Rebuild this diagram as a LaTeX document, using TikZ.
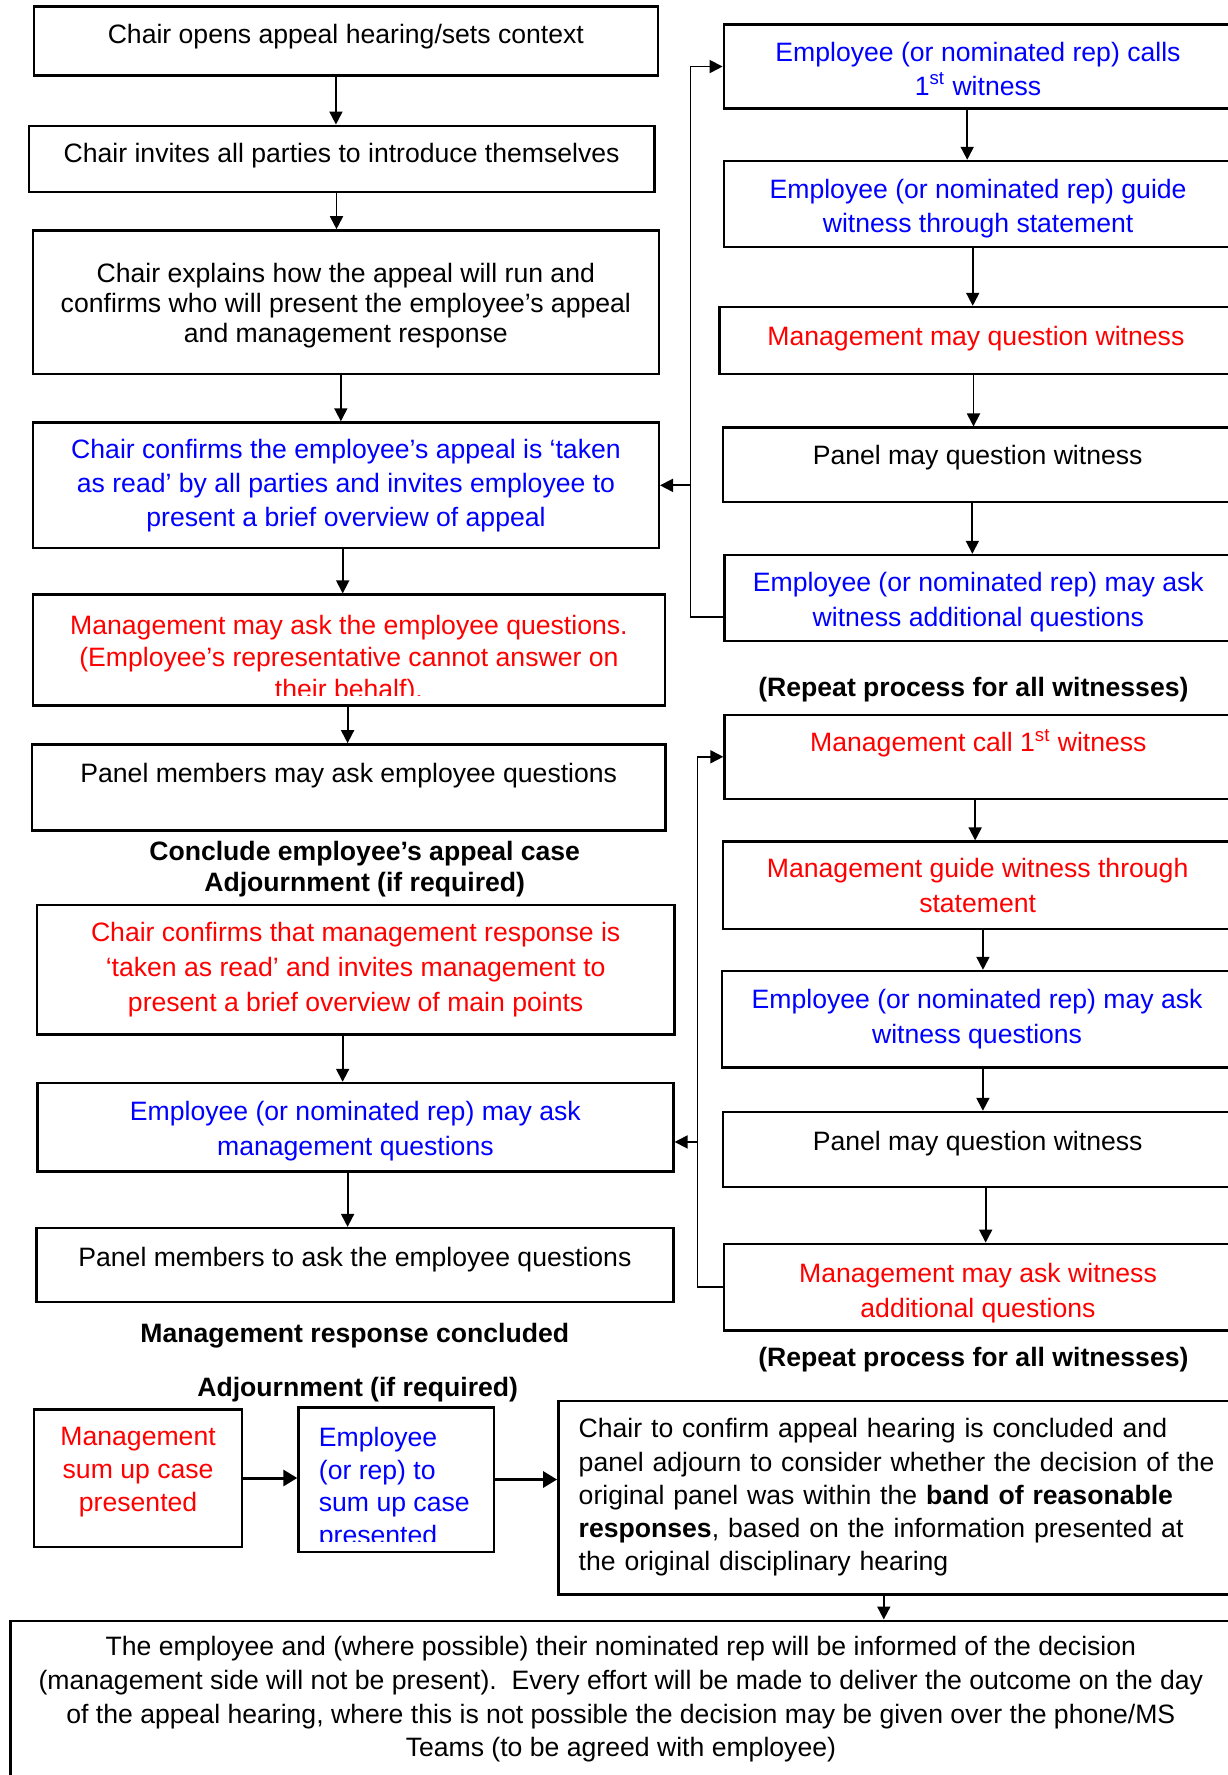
\documentclass[tikz,border=0pt]{standalone}
\usepackage{fontspec}
\setmainfont{Liberation Sans}
\usepackage{xcolor}
\definecolor{EmpBlue}{RGB}{0,0,255}
\definecolor{MgmtRed}{RGB}{255,0,0}
\usepackage{tikz}
\usetikzlibrary{arrows.meta,calc}
\newcommand{\padtop}[1]{\rule{0pt}{#1}}
\newcommand{\padbot}[1]{\rule[-#1]{0pt}{#1}}

\begin{document}
\begin{tikzpicture}[x=0.5pt,y=-0.5pt,font=\fontsize{13.3}{16.6}\selectfont,
  box/.style={draw,line width=1.2pt,anchor=west,align=center,inner sep=2pt},
  lead/.style={font=\fontsize{13.3}{#1}\selectfont},
  lift/.style={text height=10pt,text depth=#1},
  head/.style={font=\fontsize{13.3}{15.5}\selectfont\bfseries,align=center},
  arr/.style={-{Triangle[width=6.5pt,length=6.5pt]},line width=0.9pt},
  fat/.style={-{Triangle[width=8pt,length=7pt]},line width=1.5pt}]
  \useasboundingbox (0,0) rectangle (1227,1775);

  \node[box,minimum width=311.85pt,minimum height=34.5pt,lift=7.2pt] (b1) at (32.8,40.9) {Chair opens appeal hearing/sets context};
  \node[box,minimum width=312.7pt,minimum height=33pt,lift=6.1pt] (b2) at (27.7,158.75) {Chair invites all parties to introduce themselves};
  \node[box,lead=15.2pt,minimum width=312.95pt,minimum height=71.75pt] (b3) at (31.7,302.15) {\padtop{13.1pt}Chair explains how the appeal will run and\\confirms who will present the employee’s appeal\\and management response};
  \node[box,text=EmpBlue,lead=16.9pt,minimum width=312.8pt,minimum height=62.85pt] (b4) at (32,485.35) {Chair confirms the employee’s appeal is ‘taken\\as read’ by all parties and invites employee to\\present a brief overview of appeal};
  \node[box,minimum width=316pt,minimum height=55.4pt] (b5) at (31.7,650) {};
  \begin{scope}
    \clip (b5.north west) rectangle ($(b5.south east)+(0,-11)$);
    \node[text=MgmtRed,lead=16pt,align=center] (b5txt) at ($(b5.center)+(0,9.6)$) {Management may ask the employee questions.\\(Employee’s representative cannot answer on\\their behalf).};
  \end{scope}
  \node[box,minimum width=316.75pt,minimum height=43pt,lift=14.7pt] (b6) at (30.8,787.35) {Panel members may ask employee questions};
  \node[head] (concl) at (364.7,869.5) {Conclude employee’s appeal case\\Adjournment (if required)};
  \node[box,text=MgmtRed,lead=17.6pt,minimum width=318.75pt,minimum height=64.65pt] (b7) at (35.7,969.65) {Chair confirms that management response is\\‘taken as read’ and invites management to\\present a brief overview of main points};
  \node[box,text=EmpBlue,lead=17.5pt,minimum width=318pt,minimum height=44.25pt] (b8) at (36.2,1127.25) {\padtop{13.1pt}Employee (or nominated rep) may ask\\management questions};
  \node[box,minimum width=318.6pt,minimum height=36.8pt,lift=8.2pt] (b9) at (35.1,1264.9) {Panel members to ask the employee questions};
  \node[head] (mgmtdone) at (354.8,1336) {Management response concluded};
  \node[head] (adjourn) at (357.7,1390) {Adjournment (if required)};
  \node[box,text=MgmtRed,lead=16.5pt,minimum width=104pt,minimum height=68.7pt] (b10) at (32.9,1478) {Management\\sum up case\\presented\padbot{8.4pt}};
  \node[box,minimum width=97.85pt,minimum height=72.2pt] (b11) at (297.3,1479.5) {};
  \begin{scope}
    \clip (b11.north west) rectangle ($(b11.south east)+(0,-11)$);
    \node[text=EmpBlue,lead=16.25pt,align=left,anchor=west,inner sep=0pt] (b11txt) at (318.5,1488.7) {Employee\\(or rep) to\\sum up case\\presented};
  \end{scope}
  \node[box,align=left,text width=330pt,inner xsep=10.2pt,lead=16.65pt,minimum height=96.8pt] (b12) at (557.1,1497.5) {Chair to confirm appeal hearing is concluded and\\panel adjourn to consider whether the decision of the\\original panel was within the \textbf{band of reasonable}\\\textbf{responses}, based on the information presented at\\the original disciplinary hearing};
  \node[box,lead=16.8pt,minimum width=610.3pt,minimum height=78.65pt] (b13) at (9.4,1699.35) {The employee and (where possible) their nominated rep will be informed of the decision\\(management side will not be present).\ \ Every effort will be made to deliver the outcome on the day\\of the appeal hearing, where this is not possible the decision may be given over the phone/MS\\Teams (to be agreed with employee)};

  \node[box,text=EmpBlue,lead=17pt,minimum width=254.2pt,minimum height=41.95pt] (r1) at (722.6,66.55) {\padtop{12pt}Employee (or nominated rep) calls\\1\textsuperscript{st} witness};
  \node[box,text=EmpBlue,lead=17pt,minimum width=254pt,minimum height=43.15pt] (r2) at (722.9,204.15) {\padtop{14.2pt}Employee (or nominated rep) guide\\witness through statement};
  \node[box,text=MgmtRed,minimum width=256.3pt,minimum height=33.5pt,lift=5.4pt] (r3) at (718.4,340.5) {Management may question witness};
  \node[box,minimum width=254.55pt,minimum height=37.25pt,lift=10.5pt] (r4) at (721.9,464.95) {Panel may question witness};
  \node[box,text=EmpBlue,lead=17.5pt,minimum width=253.9pt,minimum height=43pt] (r5) at (723.2,598) {\padtop{13.7pt}Employee (or nominated rep) may ask\\witness additional questions};
  \node[head] (rep1) at (973.4,689.4) {(Repeat process for all witnesses)};
  \node[box,text=MgmtRed,minimum width=253.85pt,minimum height=42pt,lift=14.9pt] (r6) at (723.3,756.8) {Management call 1\textsuperscript{st} witness};
  \node[box,text=MgmtRed,lead=17.5pt,minimum width=254.55pt,minimum height=43.7pt] (r7) at (721.9,885.3) {Management guide witness through\\statement};
  \node[box,text=EmpBlue,lead=17.5pt,minimum width=255.1pt,minimum height=48.25pt] (r8) at (720.8,1019.25) {Employee (or nominated rep) may ask\\witness questions};
  \node[box,minimum width=254.55pt,minimum height=37.35pt,lift=9.3pt] (r9) at (721.9,1149.35) {Panel may question witness};
  \node[box,text=MgmtRed,lead=17.5pt,minimum width=254.2pt,minimum height=43.3pt] (r10) at (722.6,1287.1) {\padtop{15.3pt}Management may ask witness\\additional questions};
  \node[head] (rep2) at (973.4,1359.4) {(Repeat process for all witnesses)};

  \draw[arr] (b1.south) ++(-9.9,0) coordinate (p) -- (p |- b2.north);
  \draw[arr] (b2.south) ++(-5.1,0) coordinate (p) -- (p |- b3.north);
  \draw[arr] (b3.south) ++(-5,0) coordinate (p) -- (p |- b4.north);
  \draw[arr] (b4.south) ++(-3.3,0) coordinate (p) -- (p |- b5.north);
  \draw[arr] (b5.south) ++(-1.3,0) coordinate (p) -- (p |- b6.north);
  \draw[arr] (b7.south) ++(-13,0) coordinate (p) -- (p |- b8.north);
  \draw[arr] (b8.south) ++(-7.8,0) coordinate (p) -- (p |- b9.north);
  \draw[fat] (b10.east) -- (b10.east -| b11.west);
  \draw[fat] (b11.east) -- (b11.east -| b12.west);
  \draw[arr] (b12.south) ++(-24.9,0) coordinate (p) -- (p |- b13.north);

  \draw[arr] (r1.south) ++(-10.8,0) coordinate (p) -- (p |- r2.north);
  \draw[arr] (r2.south) ++(-5.4,0) coordinate (p) -- (p |- r3.north);
  \draw[arr] (r3.south) ++(-2.4,0) coordinate (p) -- (p |- r4.north);
  \draw[arr] (r4.south) ++(-5.3,0) coordinate (p) -- (p |- r5.north);
  \draw[arr] (r6.south) ++(-3.2,0) coordinate (p) -- (p |- r7.north);
  \draw[arr] (r7.south) ++(5.3,0) coordinate (p) -- (p |- r8.north);
  \draw[arr] (r8.south) ++(5.8,0) coordinate (p) -- (p |- r9.north);
  \draw[arr] (r9.south) ++(8,0) coordinate (p) -- (p |- r10.north);

  \coordinate (loopA) at (690.5,0);
  \coordinate (loopB) at (697.4,0);
  \draw[arr] (r5.west) ++(0,19) coordinate (r5out) -- (r5out -| loopA) |- (r1.west);
  \draw[arr] (b4.east -| loopA) -- (b4.east);
  \draw[arr] (r10.west) -- (r10.west -| loopB) |- (r6.west);
  \coordinate (b8in) at ($(b8.east)+(0,14.7)$);
  \draw[arr] (b8in -| loopB) -- (b8in);
\end{tikzpicture}
\end{document}
